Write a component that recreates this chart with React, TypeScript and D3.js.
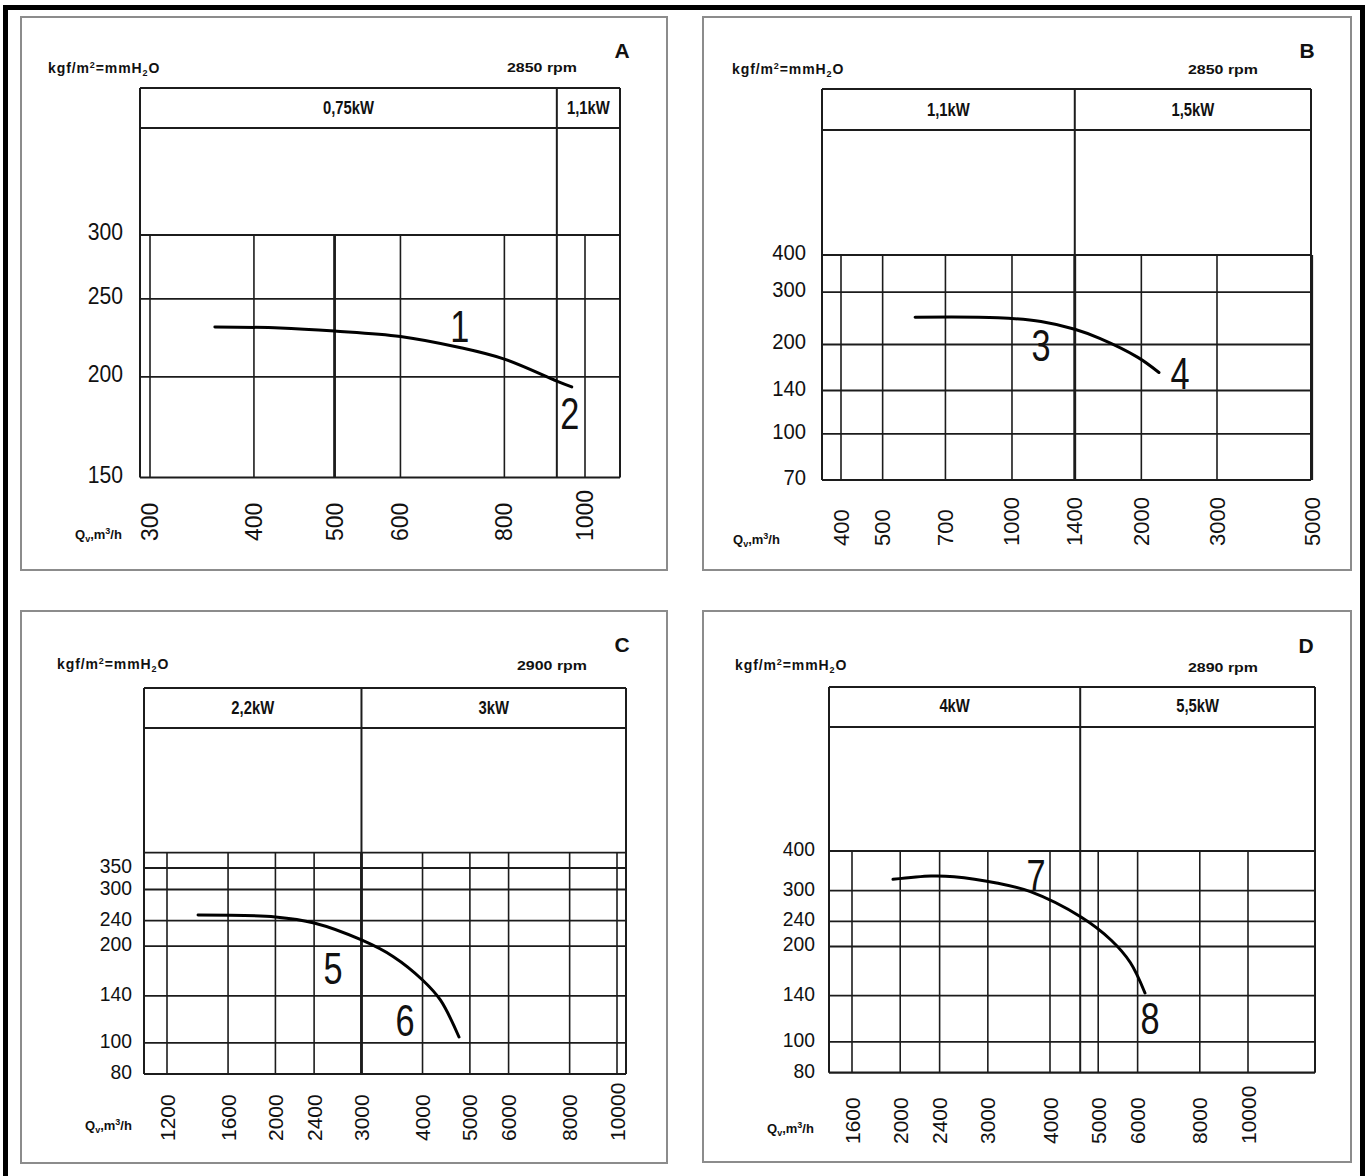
import React from "react";
import * as d3 from "d3";

// ---------------- DATA ----------------
const panelIds = ["A", "B", "C", "D"];
const rpmLabels = ["2850 rpm", "2850 rpm", "2900 rpm", "2890 rpm"];
const powerLabels = [
  ["0,75kW", "1,1kW"],
  ["1,1kW", "1,5kW"],
  ["2,2kW", "3kW"],
  ["4kW", "5,5kW"],
];
const dividerFlows = [925, 1400, 3000, 4600];

const xTicksA = [300, 400, 500, 600, 800, 1000];
const xTicksB = [400, 500, 700, 1000, 1400, 2000, 3000, 5000];
const xTicksC = [1200, 1600, 2000, 2400, 3000, 4000, 5000, 6000, 8000, 10000];
const xTicksD = [1600, 2000, 2400, 3000, 4000, 5000, 6000, 8000, 10000];

const yTicksA = [150, 200, 250, 300];
const yTicksB = [70, 100, 140, 200, 300, 400];
const yTicksC = [80, 100, 140, 200, 240, 300, 350];
const yTicksD = [80, 100, 140, 200, 240, 300, 400];

const curveFlowA = [359, 430, 500, 600, 707, 800, 925, 964];
const curvePressA = [230.6, 230, 228, 224.5, 217.5, 210.4, 197.6, 194.3];
const curveFlowB = [595, 928, 1168, 1400, 1600, 1963, 2198];
const curvePressB = [247, 246, 239, 225, 209.7, 181, 161];
const curveFlowC = [1389, 2000, 2400, 3000, 3487, 4000, 4350, 4750];
const curvePressC = [250, 246.4, 236, 209, 185.4, 156.9, 136, 104.3];
const curveFlowD = [1934, 2306, 2566, 3124, 3654, 4617, 5304, 5800, 6208];
const curvePressD = [325.6, 333.6, 332, 317, 297.7, 247.7, 209.6, 178, 142.7];

const curveNumbers = [["1", "2"], ["3", "4"], ["5", "6"], ["7", "8"]];
const numberFlows = [[707, 959], [1168, 2460], [2624, 3682], [3749, 6353]];
const numberPress = [[231, 180.3], [199, 160.4], [171, 117.8], [336, 119]];

const xTicksAll = [xTicksA, xTicksB, xTicksC, xTicksD];
const yTicksAll = [yTicksA, yTicksB, yTicksC, yTicksD];
const curveFlows = [curveFlowA, curveFlowB, curveFlowC, curveFlowD];
const curvePress = [curvePressA, curvePressB, curvePressC, curvePressD];
const boldFlows = [[500], [1400], [3000], []];

// ---------------- LAYOUT ----------------
type Layout = {
  box: number[];
  xRef: number[][];
  yRef: number[][];
  left: number;
  right: number;
  gridTop: number;
  header: number[];
  yLabelX: number;
  tickSize: number;
  xLabelY: number;
  qLabel: number[];
  unit: number[];
  rpm: number[];
  letter: number[];
  headerBase: number;
};

const layouts: Layout[] = [
  {
    box: [21, 17, 667, 570],
    xRef: [[300, 150], [1000, 585]],
    yRef: [[150, 477.5], [300, 235]],
    left: 140, right: 620, gridTop: 235, header: [88, 128],
    yLabelX: 123, tickSize: 23, xLabelY: 541,
    qLabel: [75, 539], unit: [48, 73], rpm: [507, 72], letter: [622, 58], headerBase: 114,
  },
  {
    box: [703, 17, 1351, 570],
    xRef: [[400, 841], [3000, 1217]],
    yRef: [[70, 480], [400, 255]],
    left: 822, right: 1311, gridTop: 255, header: [89, 130],
    yLabelX: 806, tickSize: 22, xLabelY: 546,
    qLabel: [733, 544], unit: [732, 74], rpm: [1188, 74], letter: [1307, 58], headerBase: 116,
  },
  {
    box: [21, 611, 667, 1163],
    xRef: [[1200, 167], [10000, 617]],
    yRef: [[80, 1074], [350, 868]],
    left: 144, right: 626, gridTop: 852.7, header: [688, 728],
    yLabelX: 132, tickSize: 21, xLabelY: 1141,
    qLabel: [85, 1130], unit: [57, 669], rpm: [517, 670], letter: [622, 652], headerBase: 714,
  },
  {
    box: [703, 611, 1351, 1162],
    xRef: [[1600, 852], [10000, 1248]],
    yRef: [[80, 1072.7], [400, 851]],
    left: 829, right: 1315, gridTop: 851, header: [687, 727],
    yLabelX: 815, tickSize: 21, xLabelY: 1144,
    qLabel: [767, 1133], unit: [735, 670], rpm: [1188, 672], letter: [1306, 653], headerBase: 712,
  },
];

const INK = "#1c1c1c";
const FONT = "'Liberation Sans', Arial, sans-serif";

function T(props: {
  x: number; y: number; size: number; weight?: string | number; anchor?: string;
  sx?: number; rot?: number; baseline?: string; spacing?: number; children: React.ReactNode;
}) {
  const { x, y, size, weight = "normal", anchor = "start", sx = 1, rot = 0, baseline, spacing } = props;
  return (
    <text
      transform={`translate(${x},${y}) rotate(${rot}) scale(${sx},1)`}
      fontSize={size}
      fontWeight={weight}
      fontFamily={FONT}
      textAnchor={anchor}
      dominantBaseline={baseline}
      letterSpacing={spacing}
      fill="#111"
    >
      {props.children}
    </text>
  );
}

function Panel({ i }: { i: number }) {
  const L = layouts[i];
  const x = d3.scaleLog().domain([L.xRef[0][0], L.xRef[1][0]]).range([L.xRef[0][1], L.xRef[1][1]]);
  const y = d3.scaleLog().domain([L.yRef[0][0], L.yRef[1][0]]).range([L.yRef[0][1], L.yRef[1][1]]);
  const xt = xTicksAll[i];
  const yt = yTicksAll[i];
  const bottom = y(d3.min(yt) as number);
  const divX = x(dividerFlows[i]);
  const pts: [number, number][] = curveFlows[i].map((q, k) => [q, curvePress[i][k]]);
  const line = d3
    .line<[number, number]>()
    .x((d) => x(d[0]))
    .y((d) => y(d[1]))
    .curve(d3.curveCatmullRom.alpha(0.5));
  const [b0, b1, b2, b3] = L.box;
  const [h0, h1] = L.header;
  return (
    <g>
      {/* panel frame */}
      <rect x={b0} y={b1} width={b2 - b0} height={b3 - b1} fill="#fff" stroke="#8c8c8c" strokeWidth={2} />
      {/* small titles */}
      <T x={L.unit[0]} y={L.unit[1]} size={14} weight="bold" spacing={0.9}>
        kgf/m<tspan dy={-5} fontSize={9}>2</tspan>
        <tspan dy={5}>=mmH</tspan>
        <tspan dy={3} fontSize={9}>2</tspan>
        <tspan dy={-3}>O</tspan>
      </T>
      <T x={L.rpm[0]} y={L.rpm[1]} size={13} weight="bold">
        <tspan textLength={70} lengthAdjust="spacingAndGlyphs">{rpmLabels[i]}</tspan>
      </T>
      <T x={L.letter[0]} y={L.letter[1]} size={21} weight="bold" anchor="middle">
        {panelIds[i]}
      </T>
      {/* header band */}
      <line x1={L.left} x2={L.right} y1={h0} y2={h0} stroke={INK} strokeWidth={2.2} />
      <line x1={L.left} x2={L.right} y1={h1} y2={h1} stroke={INK} strokeWidth={2.2} />
      <line x1={L.left} x2={L.left} y1={h0} y2={bottom} stroke={INK} strokeWidth={2} />
      <line x1={L.right} x2={L.right} y1={h0} y2={bottom} stroke={INK} strokeWidth={2} />
      <line x1={divX} x2={divX} y1={h0} y2={bottom} stroke={INK} strokeWidth={2} />
      <T x={(L.left + divX) / 2} y={L.headerBase} size={19} weight="bold" anchor="middle" sx={0.78}>
        {powerLabels[i][0]}
      </T>
      <T x={(divX + L.right) / 2} y={L.headerBase} size={19} weight="bold" anchor="middle" sx={0.78}>
        {powerLabels[i][1]}
      </T>
      {/* grid */}
      <line x1={L.left} x2={L.right} y1={L.gridTop} y2={L.gridTop} stroke={INK} strokeWidth={1.8} />
      {yt.map((v) => (
        <line key={"h" + v} x1={L.left} x2={L.right} y1={y(v)} y2={y(v)} stroke={INK} strokeWidth={v === d3.min(yt) ? 2.2 : 1.8} />
      ))}
      {xt.map((v) => (
        <line
          key={"v" + v}
          x1={x(v)}
          x2={x(v)}
          y1={L.gridTop}
          y2={bottom}
          stroke={INK}
          strokeWidth={boldFlows[i].includes(v) ? 2.8 : 1.6}
        />
      ))}
      {/* y tick labels */}
      {yt.map((v) => (
        <T key={"yl" + v} x={L.yLabelX} y={y(v) + 5} size={L.tickSize} anchor="end" sx={0.92}>
          {v}
        </T>
      ))}
      {/* x tick labels */}
      {xt.map((v) => (
        <T key={"xl" + v} x={x(v)} y={L.xLabelY} size={L.tickSize} rot={-90} baseline="central">
          {v}
        </T>
      ))}
      <T x={L.qLabel[0]} y={L.qLabel[1]} size={13} weight="bold">
        Q<tspan dy={3} fontSize={9}>v</tspan>
        <tspan dy={-3}>,m</tspan>
        <tspan dy={-5} fontSize={9}>3</tspan>
        <tspan dy={5}>/h</tspan>
      </T>
      {/* curve */}
      <path d={line(pts) || ""} fill="none" stroke="#000" strokeWidth={3} strokeLinecap="round" />
      {curveNumbers[i].map((n, k) => (
        <T
          key={"n" + n}
          x={x(numberFlows[i][k])}
          y={y(numberPress[i][k])}
          size={44}
          anchor="middle"
          baseline="central"
          sx={0.78}
        >
          {n}
        </T>
      ))}
    </g>
  );
}

export default function App() {
  return (
    <svg
      width={1365}
      height={1176}
      viewBox="0 0 1365 1176"
      style={{ position: "absolute", left: 0, top: 0, background: "#fff" }}
    >
      <rect x={0} y={0} width={1365} height={1176} fill="#fff" />
      <polyline points="5.5,1176 5.5,7.5 1362.5,7.5 1362.5,1176" fill="none" stroke="#000" strokeWidth={5} />
      {panelIds.map((_, i) => (
        <Panel key={i} i={i} />
      ))}
    </svg>
  );
}
